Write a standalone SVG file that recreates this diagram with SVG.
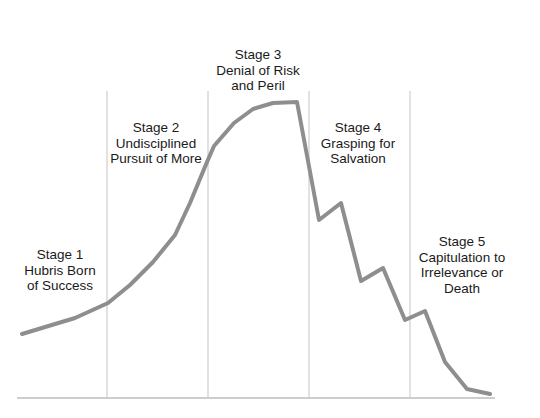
<svg xmlns="http://www.w3.org/2000/svg" width="540" height="418" viewBox="0 0 540 418">
<style>
.t{font-family:"Liberation Sans",Arial,sans-serif;font-size:13.5px;fill:#1a1a1a;text-anchor:middle}
.v{stroke:#c4c4c4;stroke-width:1;fill:none}
.c{stroke:#8e8e8e;stroke-width:4;fill:none;stroke-linejoin:round;stroke-linecap:round}
</style>
<rect width="540" height="418" fill="#ffffff"/>
<g id="connectors">
<line class="v" x1="107" y1="91" x2="107" y2="397"/>
<line class="v" x1="208" y1="91" x2="208" y2="397"/>
<line class="v" x1="309" y1="91" x2="309" y2="397"/>
<line class="v" x1="410" y1="91" x2="410" y2="397"/>
<line x1="17" y1="398" x2="495" y2="398" stroke="#bdbdbd" stroke-width="1.5"/>
<polyline class="c" points="22,334 75,318 108,303 130,285 153,262 175,235 190,203 207,162 214,146 234,123 253,109 273,103 297,102 319,220 341,203 361,281 383,268 405,320 425,311 445,362 467,389 490,394"/>
</g>
<g id="stage1"><text class="t" x="60" y="259">Stage 1</text><text class="t" x="60" y="275">Hubris Born</text><text class="t" x="60" y="290">of Success</text></g>
<g id="stage2"><text class="t" x="156" y="132">Stage 2</text><text class="t" x="156" y="148">Undisciplined</text><text class="t" x="156" y="163">Pursuit of More</text></g>
<g id="stage3"><text class="t" x="258" y="59">Stage 3</text><text class="t" x="258" y="75">Denial of Risk</text><text class="t" x="258" y="90">and Peril</text></g>
<g id="stage4"><text class="t" x="358" y="132">Stage 4</text><text class="t" x="358" y="148">Grasping for</text><text class="t" x="358" y="163">Salvation</text></g>
<g id="stage5"><text class="t" x="462" y="246">Stage 5</text><text class="t" x="462" y="262">Capitulation to</text><text class="t" x="462" y="277">Irrelevance or</text><text class="t" x="462" y="293">Death</text></g>
</svg>
